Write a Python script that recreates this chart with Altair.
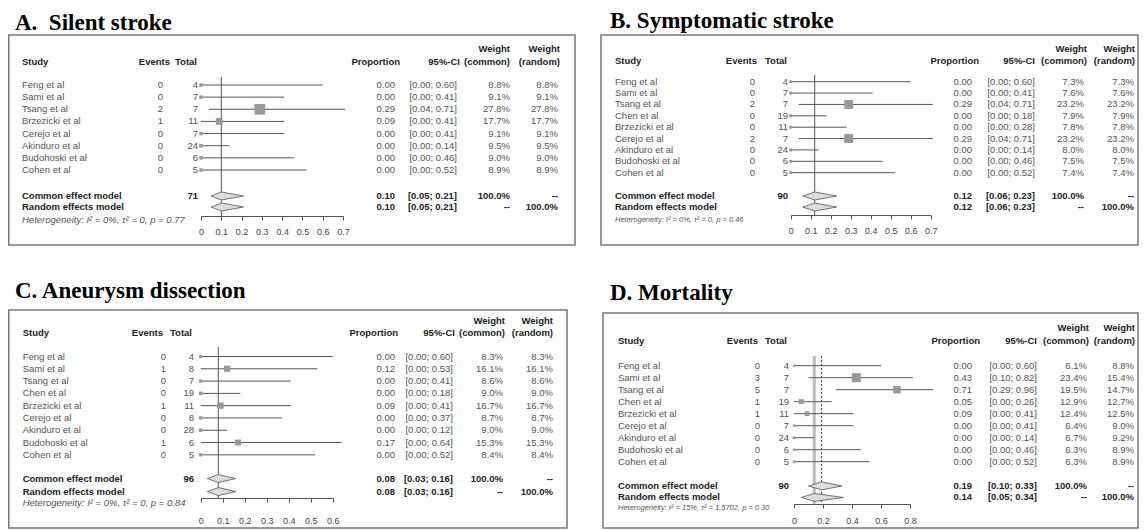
import altair as alt
import pandas as pd

SANS = "Liberation Sans"
SERIF = "Liberation Serif"

# ---------------- data ----------------
titles = ["A.\u00a0 Silent stroke", "B. Symptomatic stroke", "C. Aneurysm dissection", "D. Mortality"]

studies_A = ["Feng et al", "Sami et al", "Tsang et al", "Brzezicki et al", "Cerejo et al",
             "Akinduro et al", "Budohoski et al", "Cohen et al"]
events_A = [0, 0, 2, 1, 0, 0, 0, 0]
total_A = [4, 7, 7, 11, 7, 24, 6, 5]
prop_A = [0.00, 0.00, 0.29, 0.09, 0.00, 0.00, 0.00, 0.00]
lo_A = [0.00, 0.00, 0.04, 0.00, 0.00, 0.00, 0.00, 0.00]
hi_A = [0.60, 0.41, 0.71, 0.41, 0.41, 0.14, 0.46, 0.52]
wc_A = [8.8, 9.1, 27.8, 17.7, 9.1, 9.5, 9.0, 8.9]
wr_A = [8.8, 9.1, 27.8, 17.7, 9.1, 9.5, 9.0, 8.9]
common_A = [0.10, 0.05, 0.21]
random_A = [0.10, 0.05, 0.21]
het_A = "Heterogeneity: I² = 0%, τ² = 0, p = 0.77"
ticks_A = [0, 0.1, 0.2, 0.3, 0.4, 0.5, 0.6, 0.7]

studies_B = ["Feng et al", "Sami et al", "Tsang et al", "Chen et al", "Brzezicki et al",
             "Cerejo et al", "Akinduro et al", "Budohoski et al", "Cohen et al"]
events_B = [0, 0, 2, 0, 0, 2, 0, 0, 0]
total_B = [4, 7, 7, 19, 11, 7, 24, 6, 5]
prop_B = [0.00, 0.00, 0.29, 0.00, 0.00, 0.29, 0.00, 0.00, 0.00]
lo_B = [0.00, 0.00, 0.04, 0.00, 0.00, 0.04, 0.00, 0.00, 0.00]
hi_B = [0.60, 0.41, 0.71, 0.18, 0.28, 0.71, 0.14, 0.46, 0.52]
wc_B = [7.3, 7.6, 23.2, 7.9, 7.8, 23.2, 8.0, 7.5, 7.4]
wr_B = [7.3, 7.6, 23.2, 7.9, 7.8, 23.2, 8.0, 7.5, 7.4]
common_B = [0.12, 0.06, 0.23]
random_B = [0.12, 0.06, 0.23]
het_B = "Heterogeneity: I² = 0%, τ² = 0, p = 0.46"
ticks_B = [0, 0.1, 0.2, 0.3, 0.4, 0.5, 0.6, 0.7]

studies_C = ["Feng et al", "Sami et al", "Tsang et al", "Chen et al", "Brzezicki et al",
             "Cerejo et al", "Akinduro et al", "Budohoski et al", "Cohen et al"]
events_C = [0, 1, 0, 0, 1, 0, 0, 1, 0]
total_C = [4, 8, 7, 19, 11, 8, 28, 6, 5]
prop_C = [0.00, 0.12, 0.00, 0.00, 0.09, 0.00, 0.00, 0.17, 0.00]
lo_C = [0.00, 0.00, 0.00, 0.00, 0.00, 0.00, 0.00, 0.00, 0.00]
hi_C = [0.60, 0.53, 0.41, 0.18, 0.41, 0.37, 0.12, 0.64, 0.52]
wc_C = [8.3, 16.1, 8.6, 9.0, 16.7, 8.7, 9.0, 15.3, 8.4]
wr_C = [8.3, 16.1, 8.6, 9.0, 16.7, 8.7, 9.0, 15.3, 8.4]
common_C = [0.08, 0.03, 0.16]
random_C = [0.08, 0.03, 0.16]
het_C = "Heterogeneity: I² = 0%, τ² = 0, p = 0.84"
ticks_C = [0, 0.1, 0.2, 0.3, 0.4, 0.5, 0.6]

studies_D = ["Feng et al", "Sami et al", "Tsang et al", "Chen et al", "Brzezicki et al",
             "Cerejo et al", "Akinduro et al", "Budohoski et al", "Cohen et al"]
events_D = [0, 3, 5, 1, 1, 0, 0, 0, 0]
total_D = [4, 7, 7, 19, 11, 7, 24, 6, 5]
prop_D = [0.00, 0.43, 0.71, 0.05, 0.09, 0.00, 0.00, 0.00, 0.00]
lo_D = [0.00, 0.10, 0.29, 0.00, 0.00, 0.00, 0.00, 0.00, 0.00]
hi_D = [0.60, 0.82, 0.96, 0.26, 0.41, 0.41, 0.14, 0.46, 0.52]
wc_D = [6.1, 23.4, 19.5, 12.9, 12.4, 6.4, 6.7, 6.3, 6.3]
wr_D = [8.8, 15.4, 14.7, 12.7, 12.5, 9.0, 9.2, 8.9, 8.9]
common_D = [0.19, 0.10, 0.33]
random_D = [0.14, 0.05, 0.34]
het_D = "Heterogeneity: I² = 15%, τ² = 1.5702, p = 0.30"
ticks_D = [0, 0.2, 0.4, 0.6, 0.8]

DATA = {
    "A": (studies_A, events_A, total_A, prop_A, lo_A, hi_A, wc_A, wr_A, common_A, random_A, het_A, ticks_A),
    "B": (studies_B, events_B, total_B, prop_B, lo_B, hi_B, wc_B, wr_B, common_B, random_B, het_B, ticks_B),
    "C": (studies_C, events_C, total_C, prop_C, lo_C, hi_C, wc_C, wr_C, common_C, random_C, het_C, ticks_C),
    "D": (studies_D, events_D, total_D, prop_D, lo_D, hi_D, wc_D, wr_D, common_D, random_D, het_D, ticks_D),
}

# ---------------- layout (page pixels; converted to panel-local) ----------------
LAYOUT = {
    "A": dict(ox=8, oy=8, W=587, H=254, box=(8.75, 35, 575, 245), tx=15, ty=12,
              name=22, ev=163, ev_h=170, tot=198, tot_h=197, fx=(201, 343),
              prop=395, prop_h=400, ci=457, ci_h=460, wc=510, wc_h=510, wr=558, wr_h=560,
              h1=49, h2=62, r0=85, sp=12.14, gc=2.14, gr=0.91, het=220, het_size=9.5,
              axis=216, lpad=7, ref_top=77),
    "B": dict(ox=595, oy=8, W=544, H=254, box=(601, 35, 1138, 245), tx=610, ty=10,
              name=615, ev=755, ev_h=757, tot=788, tot_h=787, fx=(790.7, 930.7),
              prop=972, prop_h=979, ci=1035, ci_h=1035, wc=1084, wc_h=1087, wr=1134, wr_h=1135,
              h1=49, h2=61, r0=81.7, sp=11.375, gc=2.05, gr=0.97, het=220, het_size=7.5,
              axis=215, lpad=7, ref_top=75),
    "C": dict(ox=8, oy=262, W=587, H=269, box=(8.75, 310, 567, 528), tx=15, ty=280,
              name=22.7, ev=166, ev_h=163, tot=194, tot_h=192, fx=(200.7, 332.7),
              prop=395, prop_h=398, ci=453, ci_h=455, wc=503, wc_h=505, wr=553, wr_h=553,
              h1=321, h2=333, r0=356.5, sp=12.29, gc=1.93, gr=1.06, het=503, het_size=9.5,
              axis=498, lpad=14, ref_top=347),
    "D": dict(ox=595, oy=262, W=544, H=269, box=(603, 313, 1138, 528), tx=610, ty=282,
              name=618, ev=760, ev_h=758, tot=789, tot_h=787, fx=(794, 910),
              prop=972, prop_h=980, ci=1037, ci_h=1037, wc=1087, wc_h=1089, wr=1134, wr_h=1135,
              h1=328, h2=341, r0=365.7, sp=12.0, gc=2.02, gr=0.96, het=508, het_size=7.5,
              axis=504, lpad=8, ref_top=356),
}

ONE = pd.DataFrame({"k": [0]})
ROW_COLOR = "#555"
BOLD_COLOR = "#222"


def panel(key, title):
    studies, events, total, prop, lo, hi, wc, wr, com, ran, het, ticks = DATA[key]
    L = LAYOUT[key]
    ox, oy = L["ox"], L["oy"]

    def X(v):
        return v - ox

    def Y(v):
        return v - oy

    n = len(studies)
    xs = alt.Scale(domain=[ticks[0], ticks[-1]], range=[X(L["fx"][0]), X(L["fx"][1])], nice=False, zero=False)
    ys = alt.Scale(domain=[0, 1], range=[Y(L["r0"]), Y(L["r0"]) + L["sp"]], nice=False, zero=False)
    ax = alt.Axis(values=ticks, format=".1~f", orient="bottom", offset=Y(L["axis"]) - L["H"],
                  title=None, grid=False, domainColor="#555", tickColor="#555", tickSize=4,
                  labelFontSize=9, labelColor="#444", labelFont=SANS, labelPadding=L["lpad"],
                  labelOverlap=False, labelFlush=False, domainWidth=1, tickWidth=1)
    yenc = alt.Y("row:Q", scale=ys, axis=None)

    df = pd.DataFrame({
        "study": studies,
        "events": [str(e) for e in events],
        "total": [str(t) for t in total],
        "est": prop, "lo": lo, "hi": hi, "wc": wc,
        "row": list(range(n)),
        "prop_t": [f"{p:.2f}" for p in prop],
        "ci_t": [f"[{a:.2f}; {b:.2f}]" for a, b in zip(lo, hi)],
        "wc_t": [f"{w:.1f}%" for w in wc],
        "wr_t": [f"{w:.1f}%" for w in wr],
    })
    rc = (n - 1) + L["gc"]
    rr = rc + L["gr"]
    summ = pd.DataFrame({
        "model": ["Common effect model", "Random effects model"],
        "row": [rc, rr],
        "total": [str(sum(total)), ""],
        "prop_t": [f"{com[0]:.2f}", f"{ran[0]:.2f}"],
        "ci_t": [f"[{com[1]:.2f}; {com[2]:.2f}]", f"[{ran[1]:.2f}; {ran[2]:.2f}]"],
        "wc_t": ["100.0%", "--"],
        "wr_t": ["--", "100.0%"],
    })
    h = 4.0 / L["sp"]
    dia_rows = []
    for name, est, r in (("common", com, rc), ("random", ran, rr)):
        dia_rows += [
            {"model": name, "x": est[1], "top": r, "bot": r},
            {"model": name, "x": est[0], "top": r - h, "bot": r + h},
            {"model": name, "x": est[2], "top": r, "bot": r},
        ]
    dia = pd.DataFrame(dia_rows)

    bx0, by0, bx1, by1 = L["box"]
    layers = [
        alt.Chart(ONE).mark_rect(fillOpacity=0, stroke="#777", strokeWidth=1.5).encode(
            x=alt.value(X(bx0)), x2=alt.value(X(bx1)), y=alt.value(Y(by0)), y2=alt.value(Y(by1))),
        alt.Chart(ONE).mark_text(text=title, align="left", baseline="top", font=SERIF, fontSize=23,
                                 fontWeight="bold", color="#000").encode(
            x=alt.value(X(L["tx"])), y=alt.value(Y(L["ty"]))),
    ]
    # reference line(s)
    if key == "D":
        layers.append(alt.Chart(pd.DataFrame({"v": [ran[0]]})).mark_rule(color="#bbb", strokeWidth=3).encode(
            x=alt.X("v:Q", scale=xs, axis=ax), y=alt.value(Y(L["ref_top"])), y2=alt.value(Y(L["axis"]))))
        layers.append(alt.Chart(pd.DataFrame({"v": [com[0]]})).mark_rule(color="#444", strokeWidth=1, strokeDash=[2, 2]).encode(
            x=alt.X("v:Q", scale=xs, axis=ax), y=alt.value(Y(L["ref_top"])), y2=alt.value(Y(L["axis"]))))
    else:
        layers.append(alt.Chart(pd.DataFrame({"v": [com[0]]})).mark_rule(color="#555", strokeWidth=1).encode(
            x=alt.X("v:Q", scale=xs, axis=ax), y=alt.value(Y(L["ref_top"])), y2=alt.value(Y(L["axis"]))))
    # CI lines
    layers.append(alt.Chart(df).mark_rule(color="#555", strokeWidth=1).encode(
        x=alt.X("lo:Q", scale=xs, axis=ax), x2="hi:Q", y=yenc))
    # squares
    layers.append(alt.Chart(df).mark_square(color="#999", opacity=1).encode(
        x=alt.X("est:Q", scale=xs, axis=ax), y=yenc,
        size=alt.Size("wc:Q", scale=alt.Scale(type="pow", exponent=2, domain=[0, max(wc)], range=[0, 115]), legend=None)))
    # diamonds
    layers.append(alt.Chart(dia).mark_area(fill="#ddd", stroke="#555", strokeWidth=0.8, orient="vertical").encode(
        x=alt.X("x:Q", scale=xs, axis=ax), y=alt.Y("top:Q", scale=ys, axis=None), y2="bot:Q", detail="model:N"))

    def col(data, field, x, align="right", bold=False, color=ROW_COLOR, size=9.5):
        return alt.Chart(data).mark_text(align=align, baseline="middle", font=SANS, fontSize=size,
                                         fontWeight="bold" if bold else "normal", color=color).encode(
            x=alt.value(X(x)), y=yenc, text=f"{field}:N")

    layers += [
        col(df, "study", L["name"], align="left"),
        col(df, "events", L["ev"]),
        col(df, "total", L["tot"]),
        col(df, "prop_t", L["prop"]),
        col(df, "ci_t", L["ci"]),
        col(df, "wc_t", L["wc"]),
        col(df, "wr_t", L["wr"]),
        col(summ, "model", L["name"], align="left", bold=True, color=BOLD_COLOR),
        col(summ, "total", L["tot"], bold=True, color=BOLD_COLOR),
        col(summ, "prop_t", L["prop"], bold=True, color=BOLD_COLOR),
        col(summ, "ci_t", L["ci"], bold=True, color=BOLD_COLOR),
        col(summ, "wc_t", L["wc"], bold=True, color=BOLD_COLOR),
        col(summ, "wr_t", L["wr"], bold=True, color=BOLD_COLOR),
    ]

    def hdr(text, x, y, align="right", bold=True, size=9.5, color="#222", style="normal"):
        return alt.Chart(ONE).mark_text(text=text, align=align, baseline="middle", font=SANS, fontSize=size,
                                        fontWeight="bold" if bold else "normal", fontStyle=style,
                                        color=color).encode(
            x=alt.value(X(x)), y=alt.value(Y(y)))

    layers += [
        hdr("Study", L["name"], L["h2"], align="left"),
        hdr("Events", L["ev_h"], L["h2"]),
        hdr("Total", L["tot_h"], L["h2"]),
        hdr("Proportion", L["prop_h"], L["h2"]),
        hdr("95%-CI", L["ci_h"], L["h2"]),
        hdr("Weight", L["wc_h"], L["h1"]),
        hdr("(common)", L["wc_h"], L["h2"]),
        hdr("Weight", L["wr_h"], L["h1"]),
        hdr("(random)", L["wr_h"], L["h2"]),
        hdr(het, L["name"], L["het"], align="left", bold=False, size=L["het_size"], color="#555", style="italic"),
    ]

    return alt.layer(*layers).properties(width=L["W"], height=L["H"])


row1 = alt.hconcat(panel("A", titles[0]), panel("B", titles[1]), spacing=0)
row2 = alt.hconcat(panel("C", titles[2]), panel("D", titles[3]), spacing=0)
chart = (
    alt.vconcat(row1, row2, spacing=0)
    .properties(padding={"left": 0, "top": 0, "right": 0, "bottom": 0}, background="white")
    .configure(font=SANS)
    .configure_view(stroke="transparent", strokeWidth=0)
)

chart.save("out.html", embed_options={"renderer": "svg", "actions": False})
